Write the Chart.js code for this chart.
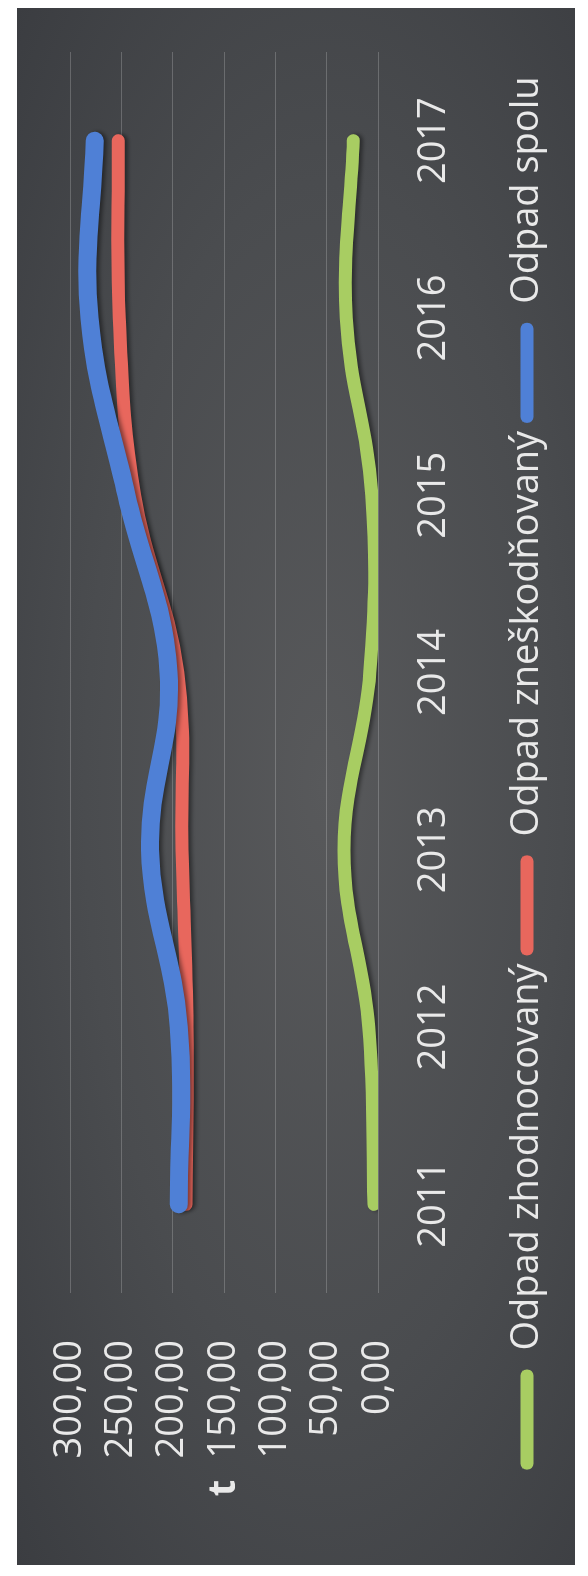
<!DOCTYPE html>
<html>
<head>
<meta charset="utf-8">
<script src="https://cdn.jsdelivr.net/npm/chart.js@4.4.1/dist/chart.umd.min.js"></script>
<style>
html, body { margin: 0; padding: 0; background: #fff; width: 588px; height: 1576px; overflow: hidden; }
/* the chart is drawn landscape and turned on its side, like the scanned page */
#frame { position: absolute; left: 0; top: 0; width: 1576px; height: 588px;
         transform-origin: 0 0; transform: translate(0, 1576px) rotate(-90deg); }
#bg { position: absolute; left: 11px; top: 17px; width: 1557px; height: 558px;
      background: radial-gradient(ellipse at 50% 55%, #58595b 0%, #4a4c4f 55%, #3b3d41 100%); }
#chart { position: absolute; left: 0; top: 0; }
</style>
</head>
<body>
<div id="frame">
  <div id="bg"></div>
  <canvas id="chart" width="1576" height="588"></canvas>
</div>
<script>
const years = ['2011', '2012', '2013', '2014', '2015', '2016', '2017'];
const zhodnocovany = [4, 9, 33, 8, 6, 31, 24];
const zneskodnovany = [187, 186, 191, 195, 237, 252, 253];
const spolu = [194, 194, 222, 204, 245, 281, 276];
const valueTicks = ['0,00', '50,00', '100,00', '150,00', '200,00', '250,00', '300,00'];
const valueAxisTitle = 't';

const textColor = '#e9e9e9';
const font = { family: '"Open Sans", sans-serif', size: 38 };

// Excel-like drop shadow under the thick lines
const lineShadow = {
    id: 'lineShadow',
    beforeDatasetDraw(chart) {
        const c = chart.ctx;
        c.save();
        c.shadowColor = 'rgba(0,0,0,0.45)';
        c.shadowBlur = 4;
        c.shadowOffsetY = 3;
    },
    afterDatasetDraw(chart) {
        chart.ctx.restore();
    }
};

// the small "t" unit label left of the value ticks
const axisTitle = {
    id: 'axisTitle',
    afterDraw(chart) {
        const c = chart.ctx;
        const y = chart.scales.y.getPixelForValue(150);
        c.save();
        c.font = 'bold 38px "Open Sans", sans-serif';
        c.fillStyle = textColor;
        c.textAlign = 'center';
        c.textBaseline = 'middle';
        c.fillText(valueAxisTitle, 88, y);
        c.restore();
    }
};

function series(label, data, color, width, order) {
    return {
        label: label,
        data: data,
        borderColor: color,
        backgroundColor: color,
        borderWidth: width,
        borderCapStyle: 'round',
        borderJoinStyle: 'round',
        tension: 0.4,
        pointRadius: 0,
        fill: false,
        order: order
    };
}

const ctx = document.getElementById('chart');
const chart = new Chart(ctx, {
    type: 'line',
    data: {
        labels: years,
        datasets: [
            series('Odpad zhodnocovaný', zhodnocovany, '#a8cd62', 13, 3),
            series('Odpad zneškodňovaný', zneskodnovany, '#e8675d', 13, 2),
            series('Odpad spolu', spolu, '#4f80d6', 18, 1)
        ]
    },
    options: {
        responsive: false,
        animation: false,
        layout: { padding: { left: 82, right: 52, top: 70, bottom: 32 } },
        plugins: {
            tooltip: { enabled: false },
            legend: {
                position: 'bottom',
                labels: {
                    color: textColor,
                    font: font,
                    boxWidth: 100,
                    boxHeight: 13,
                    padding: 8,
                    useBorderRadius: true,
                    borderRadius: 6,
                    generateLabels: chart => chart.data.datasets.map((ds, i) => ({
                        text: ds.label,
                        fillStyle: ds.borderColor,
                        strokeStyle: ds.borderColor,
                        lineWidth: 0,
                        borderRadius: 6,
                        fontColor: textColor,
                        hidden: false,
                        datasetIndex: i
                    }))
                }
            }
        },
        scales: {
            x: {
                offset: true,
                grid: { display: false, drawTicks: false },
                border: { display: false },
                ticks: { color: textColor, font: font, padding: 33, maxRotation: 0 },
                afterFit: s => { s.height = 122; }
            },
            y: {
                min: 0,
                max: 300,
                grid: { color: 'rgba(255,255,255,0.2)', lineWidth: 1, drawTicks: false },
                border: { display: false },
                ticks: {
                    stepSize: 50,
                    autoSkip: false,
                    color: textColor,
                    font: font,
                    padding: 47,
                    callback: (v, i) => valueTicks[i]
                },
                afterFit: s => {
                    s.width = 201;
                    // keep the tick padding from pushing the plot area down
                    s.paddingTop = 0;
                    s.paddingBottom = 0;
                }
            }
        }
    },
    plugins: [lineShadow, axisTitle]
});
</script>
</body>
</html>
